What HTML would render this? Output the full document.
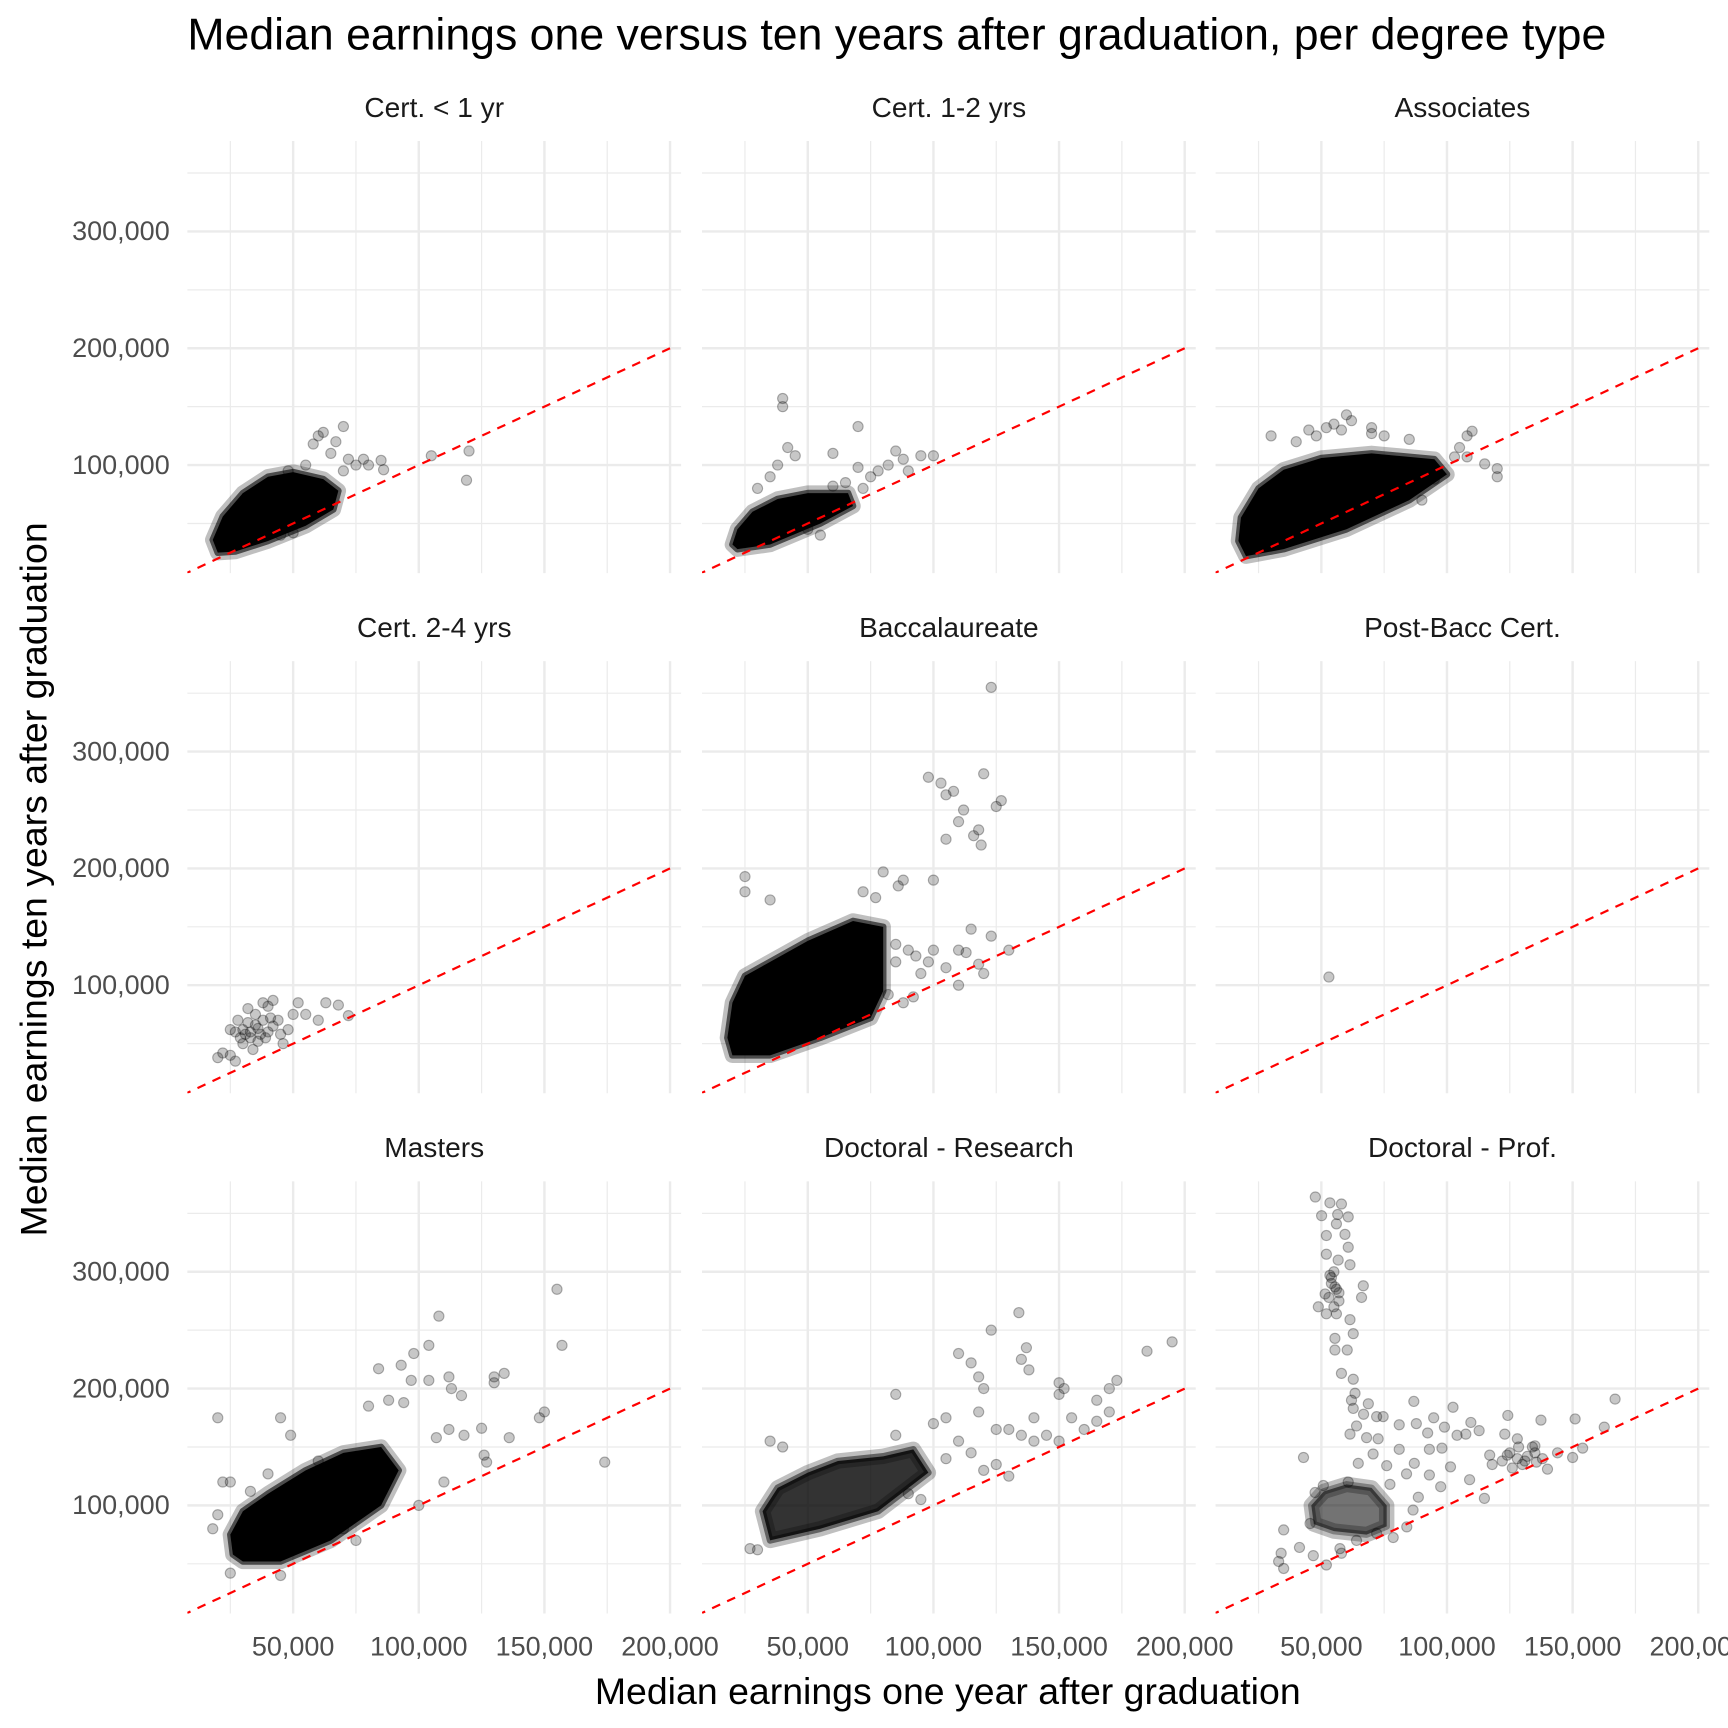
<!DOCTYPE html>
<html><head><meta charset="utf-8"><style>
html,body{margin:0;padding:0;background:#fff}
svg{display:block;font-family:"Liberation Sans",Arial,sans-serif}
</style></head><body>
<svg id="chart" xmlns="http://www.w3.org/2000/svg" width="1728" height="1728" viewBox="0 0 1568 1568">
<rect width="1568" height="1568" fill="#fff"/>
<text x="170" y="45" font-size="40.5" fill="#000">Median earnings one versus ten years after graduation, per degree type</text>
<text transform="translate(42,798) rotate(-90)" text-anchor="middle" font-size="34" fill="#000">Median earnings ten years after graduation</text>
<text x="860" y="1546" text-anchor="middle" font-size="34" fill="#000">Median earnings one year after graduation</text>
<g id="panels"></g>
</svg>
<script>
// values in thousands of dollars
const panelTitles = ["Cert. < 1 yr","Cert. 1-2 yrs","Associates","Cert. 2-4 yrs","Baccalaureate","Post-Bacc Cert.","Masters","Doctoral - Research","Doctoral - Prof."];
const xTickValues = [50,100,150,200];
const xTickLabels = ["50,000","100,000","150,000","200,000"];
const yTickValues = [100,200,300];
const yTickLabels = ["100,000","200,000","300,000"];
const xMinorValues = [25,75,125,175];
const yMinorValues = [50,150,250,350];

const cores = [
 [[20,25],[27,26],[40,35],[55,48],[66,62],[68,78],[62,88],[50,94],[40,90],[30,76],[22,56],[18,36]],
 [[22,28],[35,32],[55,50],[68,65],[66,76],[50,76],[38,71],[28,60],[22,45],[20,32]],
 [[20,22],[35,28],[60,45],[85,70],[100,92],[95,105],[70,110],[50,106],[35,96],[25,80],[18,55],[17,35]],
 [],
 [[20,40],[35,40],[55,55],[75,72],[80,95],[80,150],[68,155],[50,138],[35,120],[25,108],[20,85],[18,55]],
 [],
 [[30,52],[45,52],[65,70],[85,100],[92,130],[85,150],[70,145],[55,130],[40,110],[30,95],[25,75],[26,58]],
 [[35,70],[55,80],[78,95],[98,128],[92,148],[80,142],[62,138],[50,128],[38,115],[32,95]],
 [[47,84],[55,78],[68,75],[76,82],[76,100],[70,115],[60,118],[51,112],[46,100]]
];
const points0 = [[105,108],[120,112],[119,87],[85,104],[86,96],[78,105],[80,100],[62,128],[60,125],[70,133],[58,118],[67,120],[72,105],[65,110],[48,95],[55,100],[75,100],[70,95],[45,40],[40,45],[50,42]];
const points1 = [[40,157],[40,150],[70,133],[42,115],[45,108],[60,110],[88,105],[100,108],[95,108],[85,112],[82,100],[90,95],[78,95],[75,90],[70,98],[60,82],[65,85],[72,80],[55,40],[50,45],[30,80],[35,90],[38,100]];
const points2 = [[60,143],[62,138],[58,130],[55,135],[48,125],[40,120],[30,125],[45,130],[70,127],[75,125],[85,122],[108,125],[110,129],[105,115],[103,107],[108,107],[120,97],[120,90],[115,101],[95,88],[90,70],[80,95],[70,132],[52,132]];
const points3 = [[20,38],[22,42],[25,40],[27,60],[30,62],[32,68],[35,75],[38,70],[40,60],[42,87],[45,58],[48,62],[50,75],[52,85],[55,75],[60,70],[63,85],[68,83],[72,74],[30,50],[33,55],[36,52],[28,70],[40,82],[38,85],[34,45],[25,62],[32,80],[44,70],[46,50],[31,58],[36,63],[39,55],[42,65],[29,55],[33,60],[37,58],[35,66],[41,72],[27,35]];
const points4 = [[123,355],[98,278],[103,273],[120,281],[125,253],[127,258],[108,266],[105,263],[112,250],[110,240],[118,233],[116,228],[119,220],[105,225],[100,190],[80,197],[88,190],[86,185],[77,175],[72,180],[25,193],[25,180],[35,173],[85,135],[90,130],[100,130],[110,130],[113,128],[123,142],[130,130],[95,110],[105,115],[118,118],[120,110],[110,100],[88,85],[92,90],[82,92],[115,148],[85,120],[93,125],[98,120]];
const points5 = [[53,107]];
const points6 = [[155,285],[108,262],[104,237],[157,237],[98,230],[93,220],[84,217],[97,207],[104,207],[112,210],[130,210],[134,213],[113,200],[117,194],[130,205],[94,188],[88,190],[80,185],[150,180],[148,175],[136,158],[174,137],[126,143],[127,137],[118,160],[125,166],[112,165],[107,158],[20,175],[45,175],[49,160],[22,120],[25,120],[33,112],[40,127],[60,138],[110,120],[100,100],[70,80],[75,70],[20,92],[18,80],[25,42],[45,40]];
const points7 = [[195,240],[185,232],[134,265],[123,250],[137,235],[135,225],[138,216],[110,230],[115,222],[118,210],[120,200],[150,205],[152,200],[150,195],[173,207],[170,200],[165,190],[160,165],[155,175],[140,175],[135,160],[140,155],[145,160],[130,165],[125,165],[118,180],[105,175],[110,155],[105,140],[115,145],[120,130],[125,135],[130,125],[150,155],[165,172],[170,180],[85,195],[100,170],[35,155],[30,62],[27,63],[40,150],[90,110],[95,105],[85,160]];
const points8 = [[47.6,364],[50.1,348],[58,358],[56.5,349],[56,341],[53.4,359],[60.7,347],[59.4,332],[52,331],[60.7,321],[52,315],[56.7,310],[61.4,306],[53.4,297],[55.4,287],[51.5,281],[66.7,288],[66,278],[48.8,270],[52,264],[56,264],[61.4,259],[55.4,243],[62.7,247],[55.4,233],[60.3,233],[58,213],[62.7,208],[63.4,196],[62,190],[68.7,187],[62.7,183],[66.8,178],[72,176],[74.6,176],[64,168],[61.4,161],[68,158],[72.6,157],[81,169],[86.8,189],[87.8,170],[94.7,175],[102.4,184],[99,167],[92.3,162],[104,160],[109.5,171],[107.5,161],[112.8,164],[124.2,177],[123,161],[137.4,173],[151,174],[162.6,167],[166.9,191],[93,148],[98,149],[81,148],[87,136],[83.9,127],[93,126],[97.5,116],[101.4,133],[109,122],[114.9,106],[117,143],[118,135],[124,143],[128,157],[128.5,150],[131,138],[135,151],[135.6,137],[140,131],[144,145],[150,141],[154,149],[42.9,141],[35,79],[34,59],[33,52],[35,46],[41.3,64],[46.8,57],[52,49],[58,59],[57.4,63],[47.5,111],[50.8,117],[60.7,120],[64.7,136],[70.6,144],[76,134],[77.3,118],[84,81.6],[86.5,96],[88.6,107],[64,70],[78.6,72.5],[72,76],[45.5,84.5],[122,138],[125,145],[128,140],[132,142],[135,145],[138,140],[130,135],[126,132],[134,150],[54,290],[56,285],[55,300],[53,278],[57,275],[55,270],[54,295],[57,282]];
const allPoints = [points0,points1,points2,points3,points4,points5,points6,points7,points8];

const coreOpacity = [1,1,1,1,1,1,1,0.8,0.55];
const NS = "http://www.w3.org/2000/svg";
const root = document.getElementById("panels");
const colX50 = [266,733,1199], rowY300 = [210,682,1154];
function mk(tag, attrs, parent){ const e=document.createElementNS(NS,tag); for(const k in attrs) e.setAttribute(k,attrs[k]); parent.appendChild(e); return e; }

for(let i=0;i<9;i++){
  const c=i%3, r=Math.floor(i/3);
  const sx = v => colX50[c] + (v-50)*2.28;
  const sy = v => rowY300[r] + (300-v)*1.06;
  const L=sx(7.9), R=sx(204.4), T=sy(377.4), B=sy(7.5);
  const g = mk("g",{},root);
  
  
  const clipId="clip"+i;
  const cp = mk("clipPath",{id:clipId},g); mk("rect",{x:L,y:T,width:R-L,height:B-T},cp);
  xMinorValues.forEach(v=>{ const l=mk("line",{x1:sx(v),x2:sx(v),y1:T,y2:B,stroke:"#ebebeb","stroke-width":1.1},g);
      });
  yMinorValues.forEach(v=>{ const l=mk("line",{x1:L,x2:R,y1:sy(v),y2:sy(v),stroke:"#ebebeb","stroke-width":1.1},g);
      });
  xTickValues.forEach(v=>{ const l=mk("line",{x1:sx(v),x2:sx(v),y1:T,y2:B,stroke:"#ebebeb","stroke-width":2.2},g);
      });
  yTickValues.forEach(v=>{ const l=mk("line",{x1:L,x2:R,y1:sy(v),y2:sy(v),stroke:"#ebebeb","stroke-width":2.2},g);
      });
  const st = mk("text",{x:(L+R)/2,y:T-22,"text-anchor":"middle","font-size":25.5,fill:"#1a1a1a"},g);
  st.textContent = panelTitles[i];
  
  
  if(c===0){ yTickValues.forEach((v,k)=>{ const t=mk("text",{x:154,y:sy(v)+8,"text-anchor":"end","font-size":24.5,fill:"#4d4d4d"},g);
    t.textContent=yTickLabels[k];
    
     }); }
  if(r===2){ xTickValues.forEach((v,k)=>{ const t=mk("text",{x:sx(v),y:1502,"text-anchor":"middle","font-size":24.5,fill:"#4d4d4d"},g);
    t.textContent=xTickLabels[k];
    
     }); }
  const dg = mk("g",{"clip-path":"url(#"+clipId+")"},g);
  if(cores[i].length){
    const pts = cores[i].map(p=>sx(p[0])+","+sy(p[1])).join(" ");
    const halo = mk("polygon",{points:pts,fill:"none",stroke:"#000","stroke-width":14,"stroke-opacity":0.25,"stroke-linejoin":"round"},dg);
    
    
    const poly = mk("polygon",{points:pts,fill:"#000","fill-opacity":coreOpacity[i],stroke:"#000","stroke-width":6,"stroke-opacity":0.6*coreOpacity[i],"stroke-linejoin":"round"},dg);
    
    
  }
  allPoints[i].forEach(p=>{
    const ci = mk("circle",{cx:sx(p[0]),cy:sy(p[1]),r:4.6,fill:"#000","fill-opacity":0.22,stroke:"#000","stroke-opacity":0.3,"stroke-width":1},dg);
    
    
  });
  const ln = mk("line",{x1:sx(0),y1:sy(0),x2:sx(200),y2:sy(200),stroke:"#ff0000","stroke-width":2,"stroke-dasharray":"8,7"},dg);
  
  
}
</script>
</body></html>
